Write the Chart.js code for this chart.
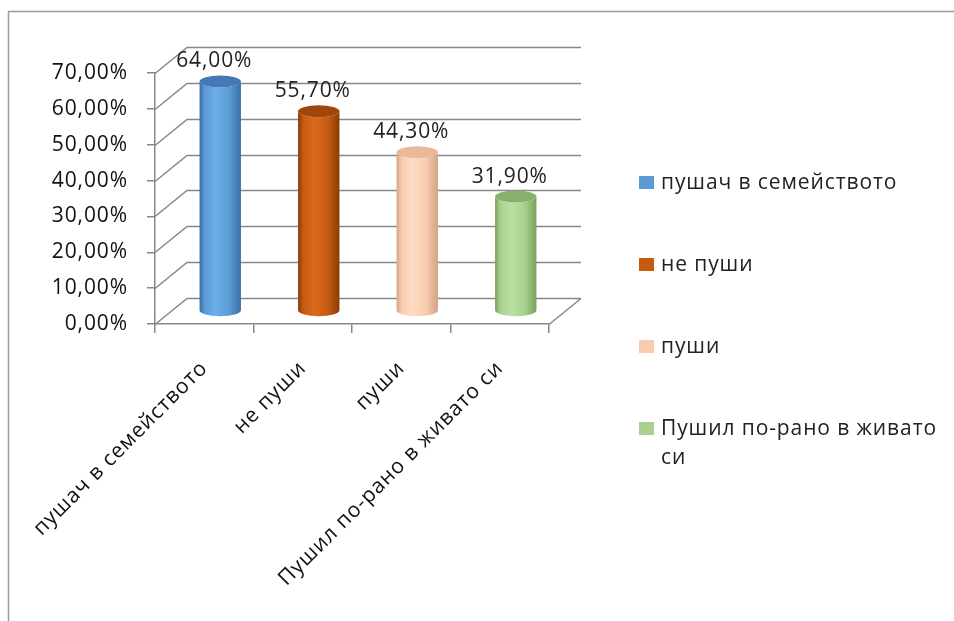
<!DOCTYPE html>
<html>
<head>
<meta charset="utf-8">
<script src="https://cdn.jsdelivr.net/npm/chart.js@4.4.1/dist/chart.umd.min.js"></script>
<style>
  html, body { margin: 0; padding: 0; background: #fff; }
  #wrap { width: 954px; height: 621px; position: relative; }
</style>
</head>
<body>
<div id="wrap"><canvas id="chart"></canvas></div>
<script>
const categories = ['пушач в семейството', 'не пуши', 'пуши', 'Пушил по-рано в живато си'];
const values = [0.64, 0.557, 0.443, 0.319];
const barColors = ['#5B9BD5', '#C55A11', '#F8CBAD', '#A9D18E'];
const darkColors = ['#3A6EA5', '#8A3A08', '#D2A383', '#78A05C'];
const lightColors = ['#6CAEE9', '#DA691C', '#FFDCC4', '#B9E0A0'];
const capColors = ['#4479B5', '#A0450B', '#E8B898', '#88B26C'];
const yTicks = [0, 0.1, 0.2, 0.3, 0.4, 0.5, 0.6, 0.7];

const FONT = "'Open Sans', sans-serif";
const DX = 32, DY = -26;   // depth of the 3D box
const gridColor = '#888888';
const SPACING = '0.9px';

function pct(v) {
    return (v * 100).toFixed(2).replace('.', ',') + '%';
}

// frame around the whole chart, plus a little wider lettering
const framePlugin = {
    id: 'frame',
    beforeUpdate(chart) {
        chart.ctx.letterSpacing = SPACING;
    },
    beforeDraw(chart) {
        const ctx = chart.ctx;
        ctx.letterSpacing = SPACING;
        ctx.save();
        ctx.strokeStyle = '#9d9d9d';
        ctx.lineWidth = 1.5;
        ctx.beginPath();
        ctx.moveTo(8.5, chart.height);
        ctx.lineTo(8.5, 11.5);
        ctx.lineTo(chart.width, 11.5);
        ctx.stroke();
        ctx.restore();
    }
};

// side wall, back wall and floor lines
const boxPlugin = {
    id: 'box3d',
    beforeDatasetsDraw(chart) {
        const {ctx, chartArea: a, scales: {y}} = chart;
        ctx.save();
        ctx.strokeStyle = gridColor;
        ctx.lineWidth = 1.5;
        ctx.beginPath();
        yTicks.forEach(v => {
            const py = Math.round(y.getPixelForValue(v)) + 0.5;
            ctx.moveTo(a.left, py);
            ctx.lineTo(a.left + DX, py + DY);
            ctx.lineTo(a.right + DX, py + DY);
        });
        const by = Math.round(a.bottom) + 0.5;
        ctx.moveTo(a.right, by);
        ctx.lineTo(a.right + DX, by + DY);
        ctx.stroke();
        ctx.restore();
    }
};

// cylinders, value labels and legend
const cylinderPlugin = {
    id: 'cylinders',
    beforeDatasetDraw() {
        return false;
    },
    afterDatasetsDraw(chart) {
        const ctx = chart.ctx;
        const meta = chart.getDatasetMeta(0);
        ctx.save();
        meta.data.forEach((bar, i) => {
            const cx = bar.x + DX / 2;
            const top = bar.y + DY / 2;
            const bot = bar.base + DY / 2;
            const rx = bar.width / 2;
            const ry = 6;

            const g = ctx.createLinearGradient(cx - rx, 0, cx + rx, 0);
            g.addColorStop(0, darkColors[i]);
            g.addColorStop(0.12, barColors[i]);
            g.addColorStop(0.38, lightColors[i]);
            g.addColorStop(0.72, barColors[i]);
            g.addColorStop(1, darkColors[i]);

            ctx.beginPath();
            ctx.moveTo(cx - rx, top);
            ctx.lineTo(cx - rx, bot);
            ctx.ellipse(cx, bot, rx, ry, 0, Math.PI, 0, true);
            ctx.lineTo(cx + rx, top);
            ctx.ellipse(cx, top, rx, ry, 0, 0, Math.PI, false);
            ctx.closePath();
            ctx.fillStyle = g;
            ctx.fill();

            ctx.beginPath();
            ctx.ellipse(cx, top, rx, ry, 0, 0, Math.PI * 2);
            ctx.fillStyle = capColors[i];
            ctx.fill();

            ctx.font = '21px ' + FONT;
            ctx.fillStyle = '#222';
            ctx.textAlign = 'center';
            ctx.textBaseline = 'middle';
            ctx.fillText(pct(values[i]), cx - 6, top - 20);
        });
        ctx.restore();
    },
    afterDraw(chart) {
        const ctx = chart.ctx;
        const x0 = 639, y0 = 183, step = 82, maxW = 285;
        ctx.save();
        ctx.font = '21px ' + FONT;
        ctx.textAlign = 'left';
        ctx.textBaseline = 'middle';
        chart.data.labels.forEach((lab, i) => {
            const cy = y0 + i * step;
            ctx.fillStyle = barColors[i];
            ctx.fillRect(x0, cy - 7, 15, 13);
            // simple word wrap
            const words = lab.split(' ');
            let lines = [], line = '';
            words.forEach(w => {
                const t = line ? line + ' ' + w : w;
                if (ctx.measureText(t).width > maxW && line) {
                    lines.push(line);
                    line = w;
                } else {
                    line = t;
                }
            });
            lines.push(line);
            ctx.fillStyle = '#222';
            lines.forEach((l, k) => ctx.fillText(l, x0 + 22, cy + k * 29));
        });
        ctx.restore();
    }
};

new Chart(document.getElementById('chart'), {
    type: 'bar',
    data: {
        labels: categories,
        datasets: [{
            data: values,
            backgroundColor: barColors,
            barPercentage: 0.42,
            categoryPercentage: 1
        }]
    },
    options: {
        responsive: true,
        maintainAspectRatio: false,
        animation: false,
        layout: { padding: { left: 0, top: 73, right: 405, bottom: 0 } },
        plugins: { legend: { display: false }, tooltip: { enabled: false } },
        scales: {
            x: {
                grid: { drawOnChartArea: false, tickLength: 9, color: gridColor, lineWidth: 1.5 },
                border: { color: gridColor, width: 1.5 },
                ticks: {
                    minRotation: 45, maxRotation: 45, padding: 23,
                    color: '#111', font: { family: FONT, size: 21 }
                },
                afterFit(scale) {
                    scale.height = 297;
                    scale.paddingLeft = 0;
                    scale.paddingRight = 0;
                }
            },
            y: {
                min: 0, max: 0.7,
                afterBuildTicks(scale) { scale.ticks = yTicks.map(v => ({ value: v })); },
                grid: { drawOnChartArea: false, tickLength: 8, color: gridColor, lineWidth: 1.5 },
                border: { color: gridColor, width: 1.5 },
                ticks: {
                    padding: 19, color: '#111', font: { family: FONT, size: 21 },
                    callback: v => pct(v)
                },
                afterFit(scale) {
                    scale.width = 155;
                    scale.paddingTop = 0;
                    scale.paddingBottom = 0;
                }
            }
        }
    },
    plugins: [framePlugin, boxPlugin, cylinderPlugin]
});
</script>
</body>
</html>
